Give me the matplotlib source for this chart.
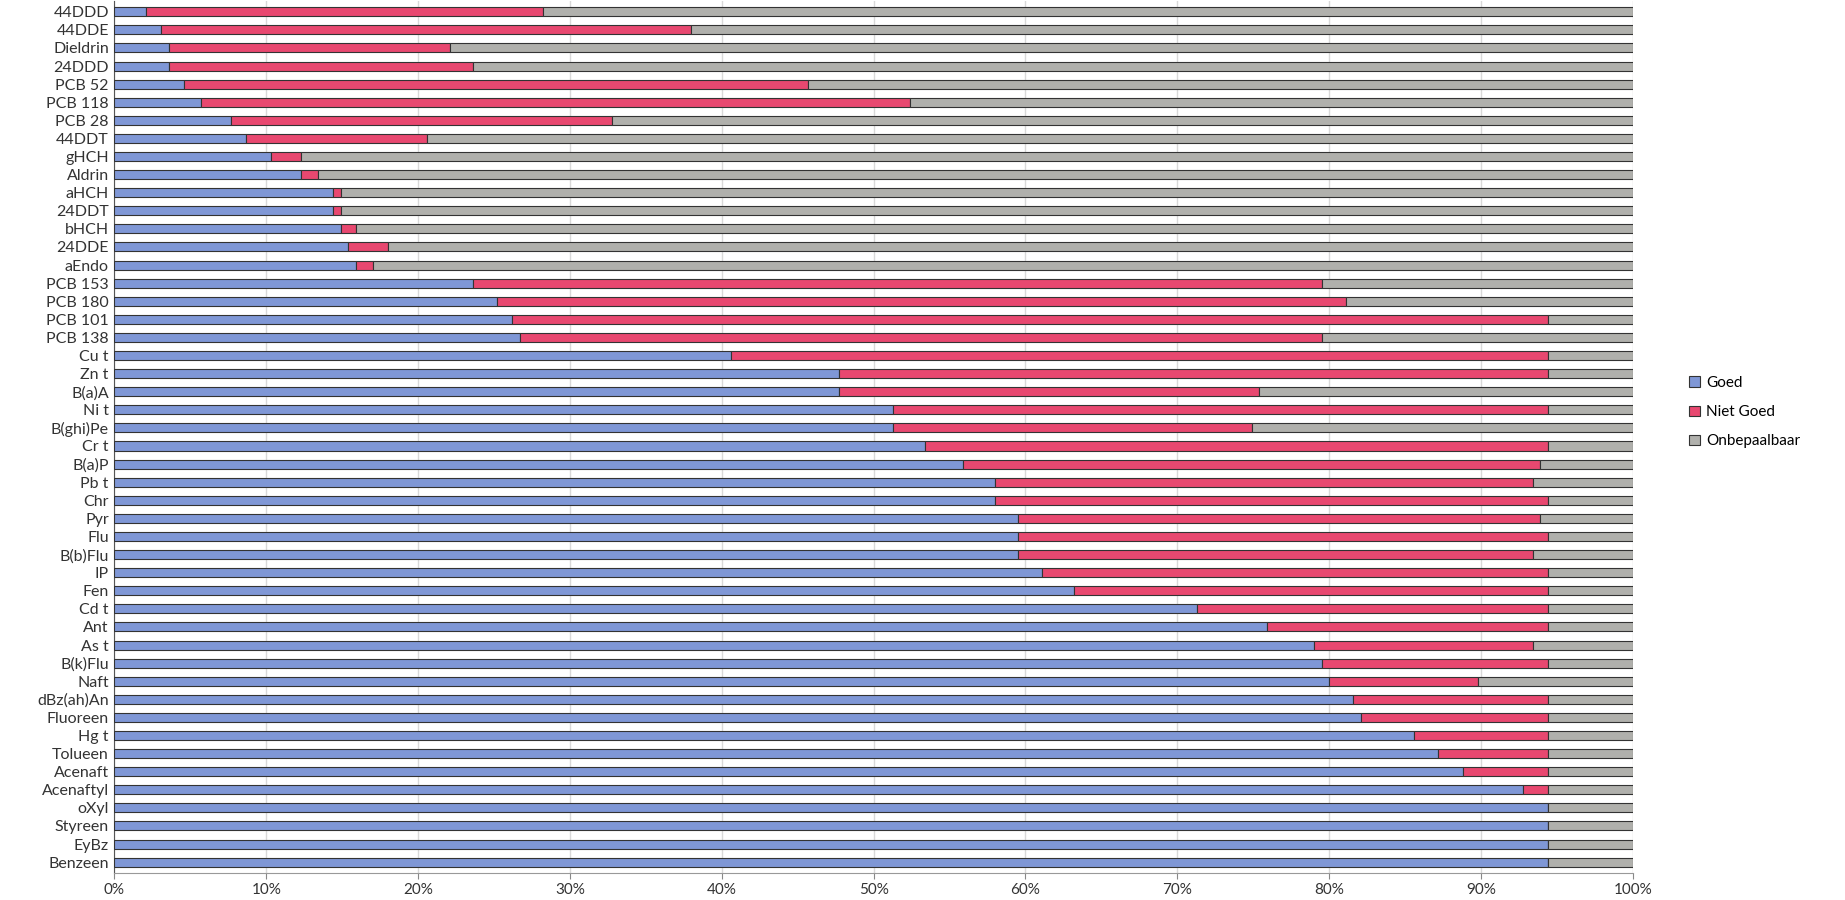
import numpy as np
import matplotlib
matplotlib.use("Agg")
import matplotlib.pyplot as plt
from matplotlib.ticker import PercentFormatter

plt.rcParams['font.family'] = ['Lato', 'DejaVu Sans']

stoffen = ["44DDD", "44DDE", "Dieldrin", "24DDD", "PCB 52", "PCB 118", "PCB 28", "44DDT",
           "gHCH", "Aldrin", "aHCH", "24DDT", "bHCH", "24DDE", "aEndo", "PCB 153",
           "PCB 180", "PCB 101", "PCB 138", "Cu t", "Zn t", "B(a)A", "Ni t", "B(ghi)Pe",
           "Cr t", "B(a)P", "Pb t", "Chr", "Pyr", "Flu", "B(b)Flu", "IP",
           "Fen", "Cd t", "Ant", "As t", "B(k)Flu", "Naft", "dBz(ah)An", "Fluoreen",
           "Hg t", "Tolueen", "Acenaft", "Acenaftyl", "oXyl", "Styreen", "EyBz", "Benzeen"]

# percentage Goed
goed = [2.1, 3.1, 3.6, 3.6, 4.6, 5.7, 7.7, 8.7,
        10.3, 12.3, 14.4, 14.4, 14.9, 15.4, 15.9, 23.6,
        25.2, 26.2, 26.7, 40.6, 47.7, 47.7, 51.3, 51.3,
        53.4, 55.9, 58.0, 58.0, 59.5, 59.5, 59.5, 61.1,
        63.2, 71.3, 75.9, 79.0, 79.5, 80.0, 81.6, 82.1,
        85.6, 87.2, 88.8, 92.8, 94.4, 94.4, 94.4, 94.4]

# cumulatief einde van Niet Goed
eind_niet_goed = [28.2, 38.0, 22.1, 23.6, 45.7, 52.4, 32.8, 20.6,
                  12.3, 13.4, 14.9, 14.9, 15.9, 18.0, 17.0, 79.5,
                  81.1, 94.4, 79.5, 94.4, 94.4, 75.4, 94.4, 74.9,
                  94.4, 93.9, 93.4, 94.4, 93.9, 94.4, 93.4, 94.4,
                  94.4, 94.4, 94.4, 93.4, 94.4, 89.8, 94.4, 94.4,
                  94.4, 94.4, 94.4, 94.4, 94.4, 94.4, 94.4, 94.4]

goed = np.array(goed) / 100
niet_goed = np.array(eind_niet_goed) / 100 - goed
onbepaalbaar = 1 - goed - niet_goed

fig = plt.figure(figsize=(18.45, 9), dpi=100)
ax = fig.add_axes([0.062, 0.030, 0.823, 0.969])

y = np.arange(len(stoffen))
h = 0.5
ec = '#333333'
ax.barh(y, goed, h, color='#7f97d6', edgecolor=ec, linewidth=0.8, label='Goed', zorder=3)
ax.barh(y, niet_goed, h, left=goed, color='#e84870', edgecolor=ec, linewidth=0.8,
        label='Niet Goed', zorder=3)
ax.barh(y, onbepaalbaar, h, left=goed + niet_goed, color='#b0b0ac', edgecolor=ec,
        linewidth=0.8, label='Onbepaalbaar', zorder=3)

ax.set_yticks(y)
ax.set_yticklabels(stoffen, fontsize=11.5, color='#333333')
ax.set_ylim(len(stoffen) - 0.4, -0.6)
ax.set_xlim(0, 1)
ax.set_xticks(np.linspace(0, 1, 11))
ax.xaxis.set_major_formatter(PercentFormatter(1.0, decimals=0))
ax.tick_params(axis='x', labelsize=11, colors='#333333', length=4, color='#888888')
ax.tick_params(axis='y', length=0, pad=4)
ax.grid(axis='x', color='#d9d9d9', linewidth=1, zorder=0)
ax.spines['top'].set_visible(False)
ax.spines['right'].set_visible(False)
ax.spines['left'].set_color('#555555')
ax.spines['bottom'].set_color('#999999')

fig.legend(loc='center left', bbox_to_anchor=(0.908, 0.542), frameon=False, fontsize=11,
           handlelength=0.7, handleheight=0.7, labelspacing=1.0, handletextpad=0.4)

fig.savefig('out.png', dpi=100)
